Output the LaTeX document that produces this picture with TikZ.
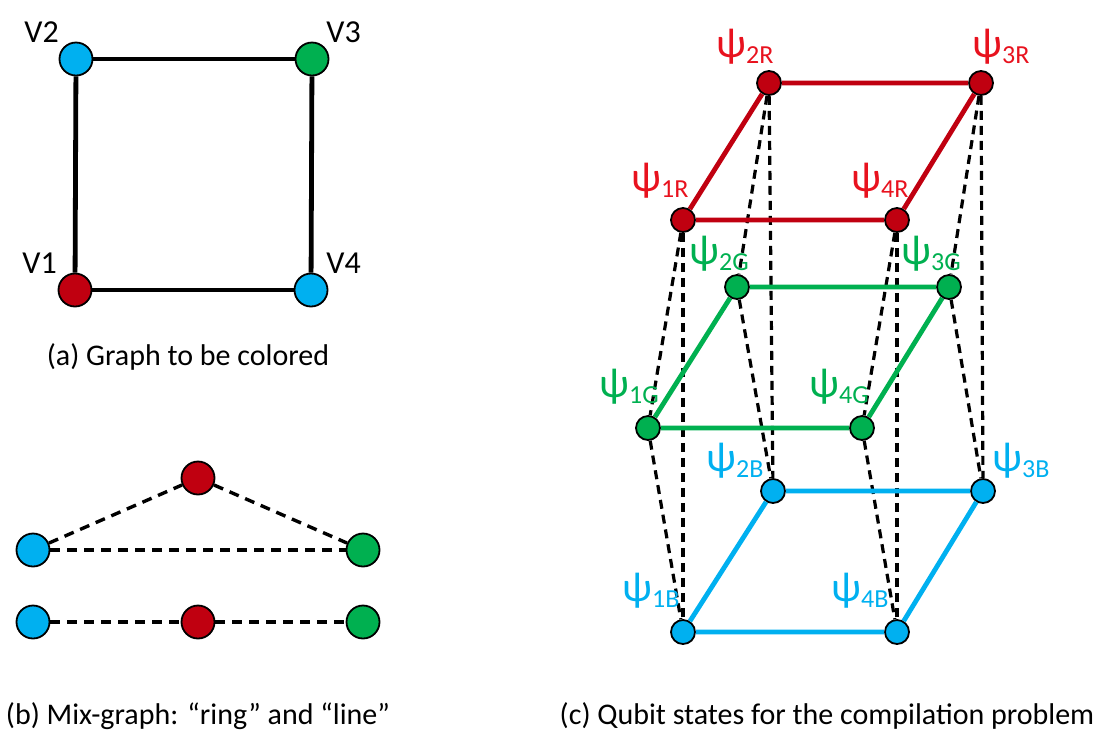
\documentclass[tikz,border=0pt]{standalone}
\usepackage{fontspec}
\setmainfont{Carlito}
\definecolor{nred}{RGB}{192,0,16}
\definecolor{lred}{RGB}{232,18,30}
\definecolor{ngreen}{RGB}{0,176,80}
\definecolor{nblue}{RGB}{0,176,240}
\newcommand{\psilab}[1]{{\fontsize{21}{24}\selectfont ψ}\raisebox{-3pt}{\fontsize{13}{15}\selectfont #1}}
\tikzset{
  bignode/.style={circle,draw=black,line width=0.9pt,minimum size=16.5pt,inner sep=0pt},
  smallnode/.style={circle,draw=black,line width=0.9pt,minimum size=12pt,inner sep=0pt},
  vlab/.style={anchor=base west,inner sep=0pt,font=\fontsize{16}{19}\selectfont},
  captext/.style={anchor=base,inner sep=0pt,font=\fontsize{15}{18}\selectfont},
  plab/.style={anchor=base west,inner sep=0pt},
  solidedge/.style={line width=2.4pt},
  bdash/.style={line width=1.7pt,dash pattern=on 5pt off 3.5pt},
  cdash/.style={line width=1.6pt,dash pattern=on 4.5pt off 3pt},
}
\begin{document}
\begin{tikzpicture}[x=0.5pt,y=-0.5pt]
\useasboundingbox (0,0) rectangle (1106,735);
% ---------- panel (a)
\node[bignode,fill=nblue] (v2) at (76,59) {};
\node[bignode,fill=ngreen] (v3) at (312,59) {};
\node[bignode,fill=nred] (v1) at (75,290) {};
\node[bignode,fill=nblue] (v4) at (311,290) {};
\draw[solidedge] (v1) -- (v2);
\draw[solidedge] (v2) -- (v3);
\draw[solidedge] (v3) -- (v4);
\draw[solidedge] (v4) -- (v1);
\node[vlab] (lv2) at (24,42) {V2};
\node[vlab] (lv3) at (326,42) {V3};
\node[vlab] (lv1) at (22,273) {V1};
\node[vlab] (lv4) at (326,273) {V4};
\node[captext] (capa) at (188,365) {(a) Graph to be colored};
% ---------- panel (b)
\node[bignode,fill=nred] (bt) at (198,478) {};
\node[bignode,fill=nblue] (bl) at (33,550) {};
\node[bignode,fill=ngreen] (br) at (363,550) {};
\node[bignode,fill=nblue] (cl) at (33,622) {};
\node[bignode,fill=nred] (cm) at (198,622) {};
\node[bignode,fill=ngreen] (cr) at (363,622) {};
\draw[bdash] (bl) -- (bt);
\draw[bdash] (bt) -- (br);
\draw[bdash] (bl) -- (br);
\draw[bdash] (cl) -- (cm);
\draw[bdash] (cm) -- (cr);
\node[captext] (capb) at (198,724) {(b) Mix-graph: “ring” and “line”};
% ---------- panel (c)
\node[smallnode,fill=nred] (r1) at (683,220) {};
\node[smallnode,fill=nred] (r2) at (769,83) {};
\node[smallnode,fill=nred] (r3) at (981,83) {};
\node[smallnode,fill=nred] (r4) at (897,220) {};
\node[smallnode,fill=ngreen] (g1) at (648,428) {};
\node[smallnode,fill=ngreen] (g2) at (737,287) {};
\node[smallnode,fill=ngreen] (g3) at (949,287) {};
\node[smallnode,fill=ngreen] (g4) at (862,428) {};
\node[smallnode,fill=nblue] (b1) at (683,632) {};
\node[smallnode,fill=nblue] (b2) at (773,491) {};
\node[smallnode,fill=nblue] (b3) at (983,491) {};
\node[smallnode,fill=nblue] (b4) at (897,632) {};
\foreach \i in {1,2,3,4}{
  \draw[cdash] (r\i) -- (g\i);
  \draw[cdash] (r\i) -- (b\i);
  \draw[cdash] (g\i) -- (b\i);
}
\draw[solidedge,draw=nred] (r1) -- (r2) -- (r3) -- (r4) -- (r1);
\draw[solidedge,draw=ngreen] (g1) -- (g2) -- (g3) -- (g4) -- (g1);
\draw[solidedge,draw=nblue] (b1) -- (b2) -- (b3) -- (b4) -- (b1);
\node[plab,text=lred] (l2r) at (716,57) {\psilab{2R}};
\node[plab,text=lred] (l3r) at (972,57) {\psilab{3R}};
\node[plab,text=lred] (l1r) at (631,191) {\psilab{1R}};
\node[plab,text=lred] (l4r) at (851,191) {\psilab{4R}};
\node[plab,text=ngreen] (l2g) at (689,264) {\psilab{2G}};
\node[plab,text=ngreen] (l3g) at (901,264) {\psilab{3G}};
\node[plab,text=ngreen] (l1g) at (599,397) {\psilab{1G}};
\node[plab,text=ngreen] (l4g) at (809,397) {\psilab{4G}};
\node[plab,text=nblue] (l2b) at (706,471) {\psilab{2B}};
\node[plab,text=nblue] (l3b) at (992,471) {\psilab{3B}};
\node[plab,text=nblue] (l1b) at (622,601) {\psilab{1B}};
\node[plab,text=nblue] (l4b) at (831,601) {\psilab{4B}};
\node[captext] (capc) at (827,724) {(c) Qubit states for the compilation problem};
\end{tikzpicture}
\end{document}
